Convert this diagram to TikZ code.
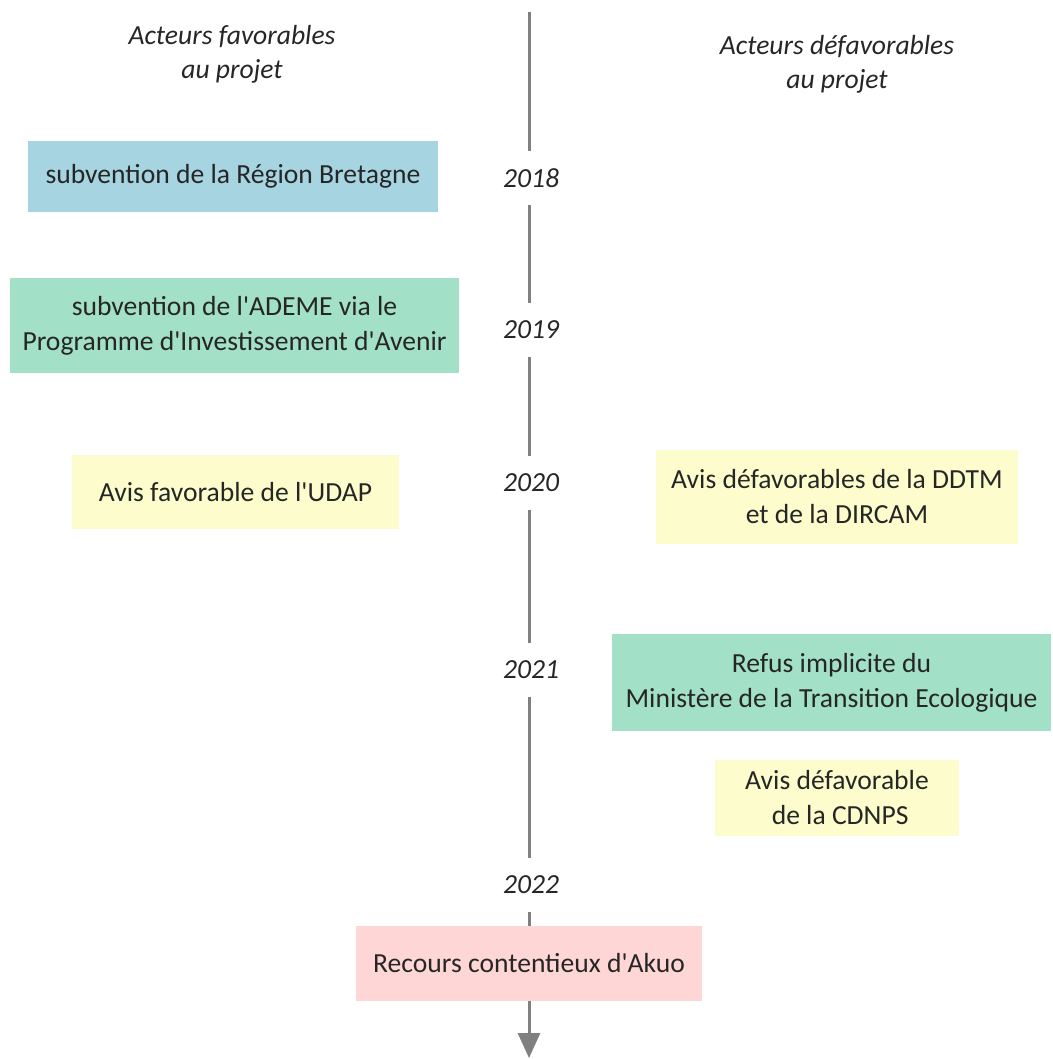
\documentclass[tikz,border=0pt]{standalone}
\usepackage{fontspec}
\setmainfont{Carlito}
\usepackage{tikz}
\usetikzlibrary{arrows.meta, positioning}
\definecolor{regionblue}{RGB}{166, 212, 224}
\definecolor{mintgreen}{RGB}{162, 224, 200}
\definecolor{paleyellow}{RGB}{252, 252, 204}
\definecolor{palepink}{RGB}{255, 214, 214}
\definecolor{axisgray}{RGB}{128, 128, 128}
\newcommand{\apos}{\textquotesingle}

\begin{document}
\begin{tikzpicture}[
  x=1pt, y=-1pt,
  every node/.style={font=\fontsize{27.6}{35}\selectfont, text=black!85},
  event/.style={rectangle, inner sep=0pt, align=center},
  header/.style={align=center, font=\fontsize{27.6}{34}\selectfont\itshape},
  year/.style={inner sep=0pt, minimum height=53pt, font=\fontsize{27.6}{34}\selectfont\itshape},
  axis/.style={axisgray, line width=3pt},
  axisend/.style={axis, -{Triangle[width=22pt, length=25pt]}}
]
  \path[use as bounding box] (0, 0) rectangle (1052, 1059);

  \node[header] (pro) at (232, 54) {Acteurs favorables\\au projet};
  \node[header] (contra) at (837, 64) {Acteurs défavorables\\au projet};

  \coordinate (top) at (529, 12);
  \coordinate (bottom) at (529, 1058);
  \node[year] (y2018) at (531, 178) {2018};
  \node[year] (y2019) at (531, 330) {2019};
  \node[year] (y2020) at (531, 483) {2020};
  \node[year] (y2021) at (531, 670) {2021};
  \node[year] (y2022) at (531, 885) {2022};

  \node[event, fill=regionblue, minimum width=410pt, minimum height=71pt] (breg) at (233, 176.5) {subvention de la Région Bretagne};
  \node[event, fill=mintgreen, minimum width=449pt, minimum height=95pt] (ademe) at (234.5, 325.5) {subvention de l\apos ADEME via le\\Programme d\apos Investissement d\apos Avenir};
  \node[event, fill=paleyellow, minimum width=327pt, minimum height=74pt] (udap) at (235.5, 492) {Avis favorable de l\apos UDAP};
  \node[event, fill=paleyellow, minimum width=362pt, minimum height=94pt] (ddtm) at (837, 497) {Avis défavorables de la DDTM\\et de la DIRCAM};
  \node[event, fill=mintgreen, minimum width=439pt, minimum height=97pt] (mte) at (831.5, 682.5) {Refus implicite du\\Ministère de la Transition Ecologique};
  \node[event, fill=paleyellow, minimum width=244pt, minimum height=76pt] (cdnps) at (837, 798) {Avis défavorable\\\ de la CDNPS};
  \node[event, fill=palepink, minimum width=346pt, minimum height=75pt] (akuo) at (529, 963.5) {Recours contentieux d\apos Akuo};

  \draw[axis] (top) -- (y2018.north -| top);
  \draw[axis] (y2018.south -| top) -- (y2019.north -| top);
  \draw[axis] (y2019.south -| top) -- (y2020.north -| top);
  \draw[axis] (y2020.south -| top) -- (y2021.north -| top);
  \draw[axis] (y2021.south -| top) -- (y2022.north -| top);
  \draw[axis] (y2022.south -| top) -- (akuo.north);
  \draw[axisend] (akuo.south) -- (bottom);
\end{tikzpicture}
\end{document}
